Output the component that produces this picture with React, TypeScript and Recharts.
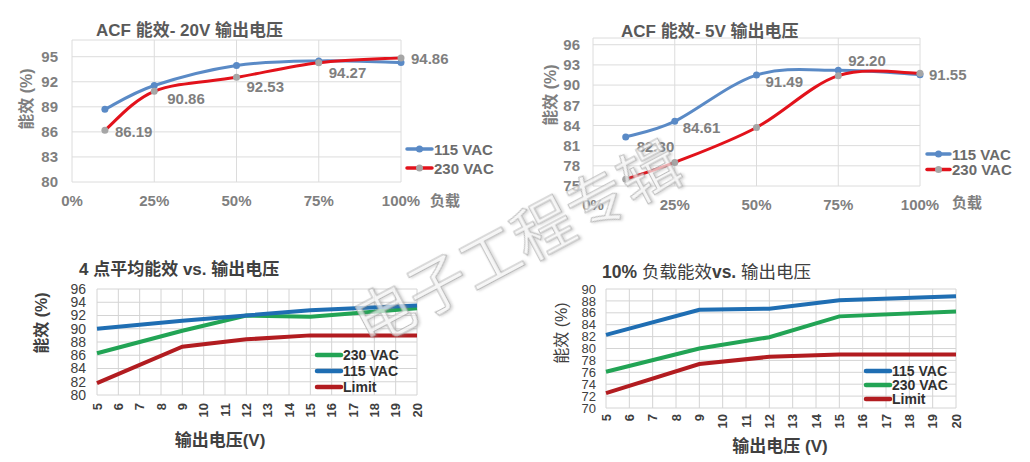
import React from "react";
import { LineChart, Line, XAxis, YAxis, CartesianGrid, Legend } from "recharts";

const FONT = '"Liberation Sans", Arial, "Noto Sans CJK SC", sans-serif';

// top charts: load (%) vs efficiency
const LOAD_PCT = [10, 25, 50, 75, 100];
const LOAD_TICKS = [0, 25, 50, 75, 100];
const EFF20_115 = [88.7, 91.55, 93.95, 94.5, 94.3];
const EFF20_230 = [86.19, 90.86, 92.53, 94.27, 94.86];
const EFF20_TICKS = [80, 83, 86, 89, 92, 95];
const EFF5_115 = [82.3, 84.61, 91.49, 92.2, 91.55];
const EFF5_230 = [76.0, 78.5, 83.7, 91.4, 91.75];
const EFF5_TICKS = [75, 78, 81, 84, 87, 90, 93, 96];

// bottom charts: output voltage vs efficiency
const VOUT = [5, 9, 12, 15, 20];
const VOUT_TICKS = [5, 6, 7, 8, 9, 10, 11, 12, 13, 14, 15, 16, 17, 18, 19, 20];
const AVG_230 = [86.3, 89.7, 92.0, 91.8, 93.1];
const AVG_115 = [90.0, 91.2, 92.0, 92.8, 93.5];
const AVG_LIMIT = [81.8, 87.3, 88.4, 89.0, 89.0];
const AVG_TICKS = [80, 82, 84, 86, 88, 90, 92, 94, 96];
const TEN_115 = [82.3, 86.5, 86.7, 88.1, 88.8];
const TEN_230 = [76.1, 80.0, 81.9, 85.4, 86.2];
const TEN_LIMIT = [72.5, 77.4, 78.6, 79.0, 79.0];
const TEN_TICKS = [70, 72, 74, 76, 78, 80, 82, 84, 86, 88, 90];

const TOP_BLUE = "#5A8AC6";
const TOP_RED = "#E2121B";
const MARK_GRAY = "#A6A6A6";
const BLUE = "#1F6EB3";
const GREEN = "#22A455";
const RED = "#B21C20";
const TICK_GRAY = "#7F7F7F";
const DARK = "#404040";

function buildRows(x: number[], cols: Record<string, number[]>) {
  return x.map((v, i) => {
    const row: Record<string, number> = { x: v };
    for (const k in cols) row[k] = cols[k][i];
    return row;
  });
}

const rows20 = buildRows(LOAD_PCT, { v115: EFF20_115, v230: EFF20_230 });
const rows5 = buildRows(LOAD_PCT, { v115: EFF5_115, v230: EFF5_230 });
const rowsAvg = buildRows(VOUT, { v230: AVG_230, v115: AVG_115, lim: AVG_LIMIT });
const rowsTen = buildRows(VOUT, { v115: TEN_115, v230: TEN_230, lim: TEN_LIMIT });

// Excel-like smoothed line (Catmull-Rom through the points)
const excelSmooth = (context: any) => {
  let pts: [number, number][] = [];
  return {
    areaStart() {},
    areaEnd() {},
    lineStart() {
      pts = [];
    },
    lineEnd() {
      if (!pts.length) return;
      context.moveTo(pts[0][0], pts[0][1]);
      for (let i = 0; i < pts.length - 1; i++) {
        const p0 = pts[Math.max(i - 1, 0)];
        const p1 = pts[i];
        const p2 = pts[i + 1];
        const p3 = pts[Math.min(i + 2, pts.length - 1)];
        context.bezierCurveTo(
          p1[0] + (p2[0] - p0[0]) / 6,
          p1[1] + (p2[1] - p0[1]) / 6,
          p2[0] - (p3[0] - p1[0]) / 6,
          p2[1] - (p3[1] - p1[1]) / 6,
          p2[0],
          p2[1]
        );
      }
    },
    point(x: number, y: number) {
      pts.push([+x, +y]);
    },
  };
};

// marker + optional value label next to it
const dotWithLabel =
  (fill: string, offsets?: [number, number][]) =>
  (p: any) => {
    const off = offsets ? offsets[p.index] : null;
    return (
      <g key={`d-${p.index}`}>
        <circle cx={p.cx} cy={p.cy} r={3.5} fill={fill} />
        {off && (
          <text
            x={p.cx + off[0]}
            y={p.cy + off[1]}
            dominantBaseline="central"
            fontSize={15}
            fontWeight="bold"
            fill={TICK_GRAY}
          >
            {Number(p.value).toFixed(2)}
          </text>
        )}
      </g>
    );
  };

const LABELS_20: [number, number][] = [[10, 1], [13, 7.5], [10, 9.5], [10, 10], [10, 1]];
const LABELS_5: [number, number][] = [[11, 10], [8, 6], [9, 6.5], [10, -9.5], [9, 0]];

type LegendItem = { name: string; color: string; marker?: string };

const LegendBox = ({ items, gap, width, font }: { items: LegendItem[]; gap: number; width: number; font: number }) => (
  <svg width={110} height={items.length * gap + 6} style={{ overflow: "visible", display: "block" }}>
    {items.map((it, i) => (
      <g key={it.name} transform={`translate(0, ${8 + i * gap})`}>
        <line x1={2} x2={2 + width} y1={0} y2={0} stroke={it.color} strokeWidth={it.marker ? 3.5 : 4.5} strokeLinecap="round" />
        {it.marker && <circle cx={2 + width / 2} cy={0} r={3.5} fill={it.marker} />}
        <text
          x={4 + width}
          y={0}
          dominantBaseline="central"
          fontSize={font}
          fontWeight="bold"
          fill={it.marker ? "#6B6B6B" : "#303030"}
        >
          {it.name}
        </text>
      </g>
    ))}
  </svg>
);

const RotTick = (p: any) => {
  const y = p.y + p.gap;
  return (
    <text
      x={p.x}
      y={y}
      transform={`rotate(-90 ${p.x} ${y})`}
      textAnchor="end"
      dominantBaseline="central"
      fontSize={13}
      fontWeight="bold"
      fill={DARK}
    >
      {p.payload.value}
    </text>
  );
};

const topTick = { fill: TICK_GRAY, fontSize: 15, fontWeight: "bold" };
const avgTick = { fill: DARK, fontSize: 14 };
const tenTick = { fill: DARK, fontSize: 13 };

const VText = ({ x, y, children, ...rest }: any) => (
  <text x={x} y={y} transform={`rotate(-90 ${x} ${y})`} textAnchor="middle" dominantBaseline="central" {...rest}>
    {children}
  </text>
);

export default function App() {
  return (
    <div
      style={{
        position: "absolute",
        left: 0,
        top: 0,
        width: 1030,
        height: 462,
        background: "#fff",
        fontFamily: FONT,
        overflow: "hidden",
      }}
    >
      {/* ACF 20V */}
      <div style={{ position: "absolute", left: 0, top: 0 }}>
        <LineChart width={515} height={230} data={rows20} margin={{ top: 40, right: 114, bottom: 0, left: 0 }}>
          <CartesianGrid stroke="#DCDCDC" />
          <XAxis
            dataKey="x"
            type="number"
            domain={[0, 100]}
            ticks={LOAD_TICKS}
            interval={0}
            tickFormatter={(v) => `${v}%`}
            axisLine={false}
            tickLine={false}
            tickSize={0}
            tickMargin={13}
            height={48}
            tick={topTick}
          />
          <YAxis
            type="number"
            domain={[80, 97]}
            ticks={EFF20_TICKS}
            interval={0}
            axisLine={false}
            tickLine={false}
            tickSize={0}
            tickMargin={14}
            width={72}
            tick={topTick}
          />
          <Line dataKey="v115" name="115 VAC" stroke={TOP_BLUE} strokeWidth={3} type={excelSmooth as any} dot={dotWithLabel(TOP_BLUE)} activeDot={false} isAnimationActive={false} />
          <Line dataKey="v230" name="230 VAC" stroke={TOP_RED} strokeWidth={3} type={excelSmooth as any} dot={dotWithLabel(MARK_GRAY, LABELS_20)} activeDot={false} isAnimationActive={false} />
          <Legend
            layout="vertical"
            align="center"
            verticalAlign="middle"
            wrapperStyle={{ left: 405, top: 141, width: 110 }}
            content={() => (
              <LegendBox
                gap={19}
                width={25}
                font={15}
                items={[
                  { name: "115 VAC", color: TOP_BLUE, marker: TOP_BLUE },
                  { name: "230 VAC", color: TOP_RED, marker: MARK_GRAY },
                ]}
              />
            )}
          />
        </LineChart>
      </div>

      {/* ACF 5V */}
      <div style={{ position: "absolute", left: 515, top: 0 }}>
        <LineChart width={515} height={230} data={rows5} margin={{ top: 38, right: 110, bottom: 0, left: 0 }}>
          <CartesianGrid stroke="#DCDCDC" />
          <XAxis
            dataKey="x"
            type="number"
            domain={[0, 100]}
            ticks={LOAD_TICKS}
            interval={0}
            tickFormatter={(v) => `${v}%`}
            axisLine={false}
            tickLine={false}
            tickSize={0}
            tickMargin={13}
            height={44}
            tick={topTick}
          />
          <YAxis
            type="number"
            domain={[75, 97]}
            ticks={EFF5_TICKS}
            interval={0}
            axisLine={false}
            tickLine={false}
            tickSize={0}
            tickMargin={13}
            width={78}
            tick={topTick}
          />
          <Line dataKey="v115" name="115 VAC" stroke={TOP_BLUE} strokeWidth={3} type={excelSmooth as any} dot={dotWithLabel(TOP_BLUE, LABELS_5)} activeDot={false} isAnimationActive={false} />
          <Line dataKey="v230" name="230 VAC" stroke={TOP_RED} strokeWidth={3} type={excelSmooth as any} dot={dotWithLabel(MARK_GRAY)} activeDot={false} isAnimationActive={false} />
          <Legend
            layout="vertical"
            align="center"
            verticalAlign="middle"
            wrapperStyle={{ left: 410, top: 146, width: 110 }}
            content={() => (
              <LegendBox
                gap={15.5}
                width={23}
                font={15}
                items={[
                  { name: "115 VAC", color: TOP_BLUE, marker: TOP_BLUE },
                  { name: "230 VAC", color: TOP_RED, marker: MARK_GRAY },
                ]}
              />
            )}
          />
        </LineChart>
      </div>

      {/* 4-point average */}
      <div style={{ position: "absolute", left: 0, top: 240 }}>
        <LineChart width={515} height={222} data={rowsAvg} margin={{ top: 49, right: 98, bottom: 0, left: 0 }}>
          <CartesianGrid stroke="#D4D4D4" />
          <XAxis
            dataKey="x"
            type="number"
            domain={[5, 20]}
            ticks={VOUT_TICKS}
            interval={0}
            axisLine={false}
            tickLine={false}
            tickSize={0}
            tickMargin={0}
            height={67}
            tick={(p: any) => <RotTick {...p} gap={8} />}
          />
          <YAxis
            type="number"
            domain={[80, 96]}
            ticks={AVG_TICKS}
            interval={0}
            axisLine={false}
            tickLine={false}
            tickSize={0}
            tickMargin={11}
            width={97}
            tick={avgTick}
          />
          <Line dataKey="v230" name="230 VAC" stroke={GREEN} strokeWidth={4} type="linear" dot={false} activeDot={false} isAnimationActive={false} />
          <Line dataKey="v115" name="115 VAC" stroke={BLUE} strokeWidth={4} type="linear" dot={false} activeDot={false} isAnimationActive={false} />
          <Line dataKey="lim" name="Limit" stroke={RED} strokeWidth={4} type="linear" dot={false} activeDot={false} isAnimationActive={false} />
          <Legend
            layout="vertical"
            align="center"
            verticalAlign="middle"
            wrapperStyle={{ left: 315, top: 107, width: 110 }}
            content={() => (
              <LegendBox
                gap={16}
                width={24}
                font={14}
                items={[
                  { name: "230 VAC", color: GREEN },
                  { name: "115 VAC", color: BLUE },
                  { name: "Limit", color: RED },
                ]}
              />
            )}
          />
        </LineChart>
      </div>

      {/* 10% load */}
      <div style={{ position: "absolute", left: 515, top: 240 }}>
        <LineChart width={515} height={222} data={rowsTen} margin={{ top: 49, right: 74, bottom: 0, left: 0 }}>
          <CartesianGrid stroke="#D4D4D4" />
          <XAxis
            dataKey="x"
            type="number"
            domain={[5, 20]}
            ticks={VOUT_TICKS}
            interval={0}
            axisLine={false}
            tickLine={false}
            tickSize={0}
            tickMargin={0}
            height={54}
            tick={(p: any) => <RotTick {...p} gap={6} />}
          />
          <YAxis
            type="number"
            domain={[70, 90]}
            ticks={TEN_TICKS}
            interval={0}
            axisLine={false}
            tickLine={false}
            tickSize={0}
            tickMargin={10}
            width={91}
            tick={tenTick}
          />
          <Line dataKey="v115" name="115 VAC" stroke={BLUE} strokeWidth={4} type="linear" dot={false} activeDot={false} isAnimationActive={false} />
          <Line dataKey="v230" name="230 VAC" stroke={GREEN} strokeWidth={4} type="linear" dot={false} activeDot={false} isAnimationActive={false} />
          <Line dataKey="lim" name="Limit" stroke={RED} strokeWidth={4} type="linear" dot={false} activeDot={false} isAnimationActive={false} />
          <Legend
            layout="vertical"
            align="center"
            verticalAlign="middle"
            wrapperStyle={{ left: 349, top: 123, width: 110 }}
            content={() => (
              <LegendBox
                gap={14}
                width={24}
                font={14}
                items={[
                  { name: "115 VAC", color: BLUE },
                  { name: "230 VAC", color: GREEN },
                  { name: "Limit", color: RED },
                ]}
              />
            )}
          />
        </LineChart>
      </div>

      {/* titles, axis names, watermark */}
      <svg
        width={1030}
        height={462}
        style={{ position: "absolute", left: 0, top: 0, pointerEvents: "none" }}
      >
        <defs>
          <filter id="wm" x="-10%" y="-10%" width="120%" height="120%">
            <feDropShadow dx="1.5" dy="1.5" stdDeviation="1.2" floodColor="#888" floodOpacity="0.45" />
          </filter>
        </defs>
        <g fontWeight="bold" fontSize={17} fill="#595959">
          <text x={96} y={30} dominantBaseline="central">ACF 能效- 20V 输出电压</text>
          <text x={621} y={31} dominantBaseline="central">ACF 能效- 5V 输出电压</text>
        </g>
        <text x={79} y={269} dominantBaseline="central" fontWeight="bold" fontSize={17} fill={DARK}>
          4 点平均能效 vs. 输出电压
        </text>
        <text x={602} y={272} dominantBaseline="central" fontSize={17.5} fill={DARK}>
          <tspan fontWeight="bold">10%</tspan> 负载能效<tspan fontWeight="bold">vs.</tspan> 输出电压
        </text>
        <g fontWeight="bold" fontSize={16} fill={TICK_GRAY}>
          <VText x={26} y={99}>能效 (%)</VText>
          <VText x={550} y={95}>能效 (%)</VText>
          <text x={430} y={200} dominantBaseline="central" fontSize={15}>负载</text>
          <text x={952} y={202} dominantBaseline="central" fontSize={15}>负载</text>
        </g>
        <g fontWeight="bold" fontSize={16} fill={DARK}>
          <VText x={41} y={323}>能效 (%)</VText>
          <VText x={561} y={333} fontWeight="normal">能效 (%)</VText>
          <text x={220} y={440} textAnchor="middle" dominantBaseline="central" fontSize={17}>输出电压(V)</text>
          <text x={780} y={446} textAnchor="middle" dominantBaseline="central" fontSize={17}>输出电压 (V)</text>
        </g>
        <text
          x={515}
          y={240}
          transform="rotate(-28 515 240)"
          textAnchor="middle"
          dominantBaseline="central"
          fontSize={60}
          fontFamily='"Noto Sans CJK SC", sans-serif'
          fill="#ffffff"
          fillOpacity={0.6}
          stroke="#a8a8a8"
          strokeOpacity={0.75}
          strokeWidth={1}
          filter="url(#wm)"
        >
          电子工程专辑
        </text>
      </svg>
    </div>
  );
}
